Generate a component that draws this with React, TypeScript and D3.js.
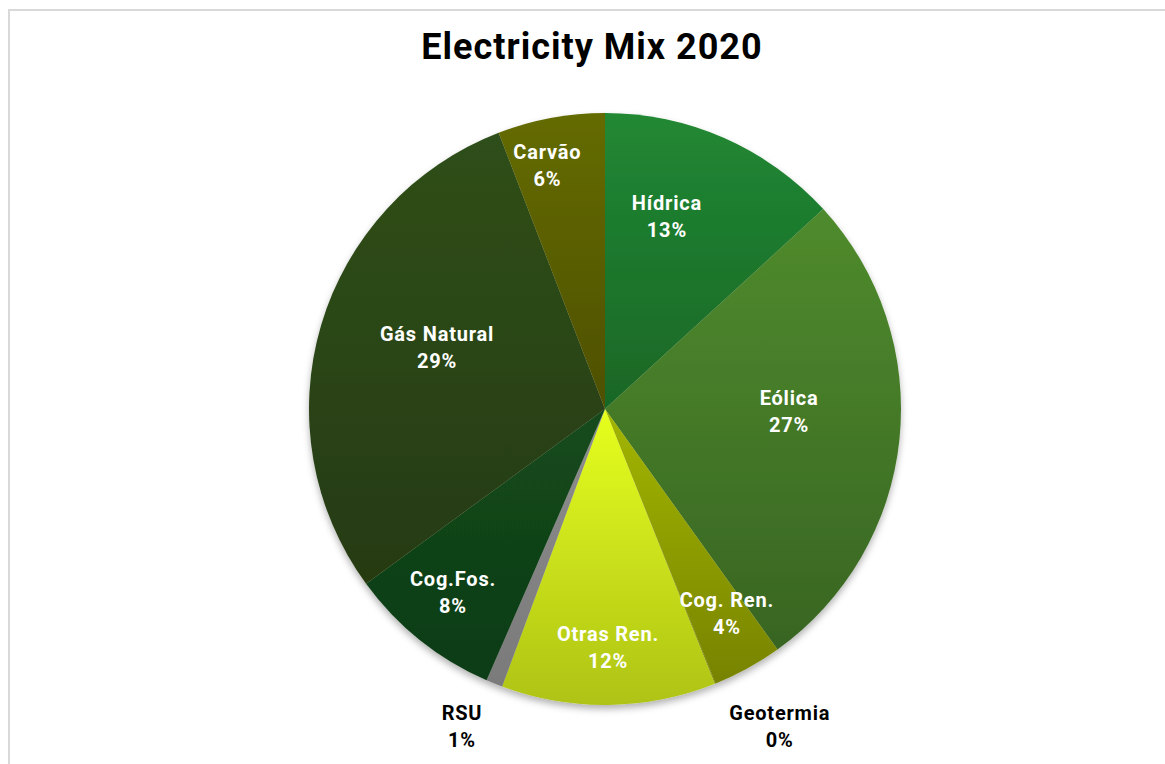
import React from "react";
import * as d3 from "d3";

const categories = ["Hídrica", "Eólica", "Cog. Ren.", "Geotermia", "Otras Ren.", "RSU", "Cog.Fos.", "Gás Natural", "Carvão"];
const values = [13.2, 26.9, 3.8, 0.05, 11.7, 0.9, 8.4, 29.2, 5.85];
const topColors = ["#218833", "#4f8b2d", "#a3b600", "#8a9800", "#e6ff1f", "#8e8e8e", "#134a1b", "#2f4f1a", "#646b00"];
const bottomColors = ["#196726", "#386522", "#778300", "#778300", "#aec316", "#7a7a7a", "#0f3c16", "#263a11", "#4e5000"];
// label placement: [radius factor, angle shift in degrees], inside labels white, outside black
const labelRadius = [0.682, 0.622, 0.804, 1.223, 0.807, 1.176, 0.804, 0.605, 0.845];
const labelShift = [-5.9, -5.3, -2, -7, 0, 2.3, 1, 3.9, -2.8];
const labelOutside = [false, false, false, true, false, true, false, false, false];
const title = "Electricity Mix 2020";

const W = 1165;
const H = 764;
const cx = 605;
const cy = 409;
const R = 296;

export default function App() {
  const data = categories.map((c, i) => ({ name: c, value: values[i], i }));
  const pie = d3.pie<any>().value((d: any) => d.value).sort(null).startAngle(0).endAngle(2 * Math.PI);
  const arcs = pie(data);
  const arc = d3.arc<any>().innerRadius(0).outerRadius(R);
  const font = "Roboto, 'Noto Sans', sans-serif";

  return (
    <svg
      width={W}
      height={H}
      style={{ position: "absolute", left: 0, top: 0, background: "#fff" }}
    >
      <defs>
        {arcs.map((a, i) => (
          <linearGradient key={i} id={`g${i}`} x1="0" y1="0" x2="0" y2="1">
            <stop offset="0" stopColor={topColors[i]} />
            <stop offset="1" stopColor={bottomColors[i]} />
          </linearGradient>
        ))}
        <filter id="shadow" x="-20%" y="-20%" width="140%" height="140%">
          <feDropShadow dx="0" dy="4" stdDeviation="3.5" floodColor="#000" floodOpacity="0.3" />
        </filter>
      </defs>
      <rect x={9} y={10} width={1300} height={900} fill="#fff" stroke="#d9d9d9" strokeWidth={2} />
      <text
        x={592}
        y={59}
        textAnchor="middle"
        fontFamily={font}
        fontWeight={700}
        fontSize={36}
        letterSpacing={1}
        fill="#000"
      >
        {title}
      </text>
      <g transform={`translate(${cx},${cy})`}>
        <g filter="url(#shadow)">
          {arcs.map((a, i) => (
            <path key={i} d={arc(a) as string} fill={`url(#g${i})`} />
          ))}
        </g>
        {arcs.map((a, i) => {
          const mid = (a.startAngle + a.endAngle) / 2 + (labelShift[i] * Math.PI) / 180;
          const rr = R * labelRadius[i];
          const x = rr * Math.sin(mid);
          const y = -rr * Math.cos(mid);
          const fill = labelOutside[i] ? "#000" : "#fff";
          return (
            <g key={i} fontFamily={font} fontWeight={700} fontSize={20} letterSpacing={0.8} fill={fill} textAnchor="middle">
              <text x={x} y={y - 13.5 + 7.1}>{categories[i]}</text>
              <text x={x} y={y + 13.5 + 7.1}>{`${Math.round(values[i])}%`}</text>
            </g>
          );
        })}
      </g>
    </svg>
  );
}
